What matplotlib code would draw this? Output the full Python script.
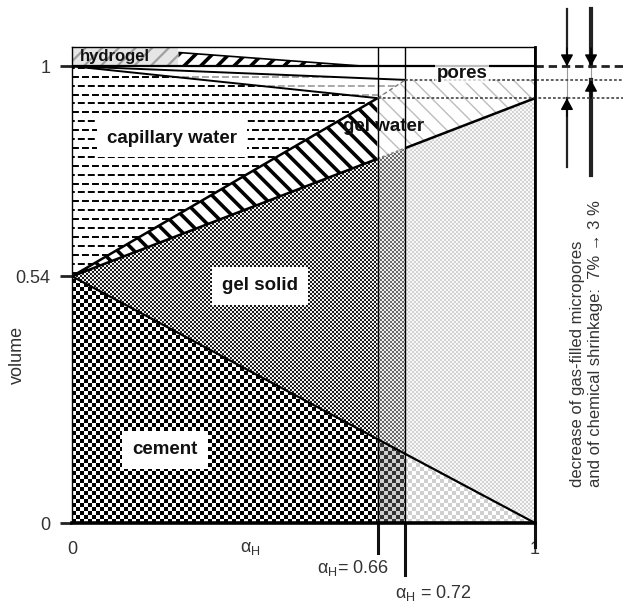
import numpy as np
import matplotlib
matplotlib.use("Agg")
import matplotlib.pyplot as plt
import matplotlib.colors as mcolors
from matplotlib.patches import Polygon

plt.rcParams['font.family'] = ['Liberation Sans', 'DejaVu Sans']
plt.rcParams['mathtext.fontset'] = 'custom'
plt.rcParams['mathtext.rm'] = 'Liberation Sans'
plt.rcParams['mathtext.it'] = 'Liberation Sans'
plt.rcParams['mathtext.bf'] = 'Liberation Sans:bold'
plt.rcParams['lines.scale_dashes'] = False

# ---------------- data ----------------
alpha_H = [0.66, 0.72]            # marked degrees of hydration
y_ticks = [0, 0.54, 1]
y_ticklabels = ['0', '0.54', '1']
x_ticks = [0, 1]
x_ticklabels = ['0', '1']

cement_x = [0.0, 1.0]
cement_y = [0.54, 0.0]
gel_solid_x = [0.0, 1.0]
gel_solid_y = [0.54, 0.93]
gel_water_x = [0.0, 0.66]
gel_water_y = [0.54, 0.93]
capillary_top_x = [0.0, 0.66]
capillary_top_y = [1.0, 0.93]
shrinkage_x = [0.0, 0.72]
shrinkage_y = [1.0, 0.97]
hydrogel_gray_x = [0.0, 0.23]
hydrogel_wedge_x = [0.23, 0.63]
hydrogel_wedge_y = [1.03, 1.0]
y_top = 1.042

labels = {
    'capillary water': (0.216, 0.842),
    'gel solid': (0.406, 0.519),
    'cement': (0.201, 0.160),
    'pores': (0.842, 0.985),
    'gel water': (0.672, 0.867),
    'hydrogel': (0.093, 1.021),
}

# ---------------- figure ----------------
W, H = 463, 476
fig = plt.figure(figsize=(6.24, 6.05), dpi=100)
ax = fig.add_axes([72 / 624, 82 / 605, W / 624, H / 605])

a1, a2 = alpha_H
cem = lambda x: np.interp(x, cement_x, cement_y)
gs = lambda x: np.interp(x, gel_solid_x, gel_solid_y)
gw = lambda x: np.interp(x, gel_water_x, gel_water_y)
sh = lambda x: np.interp(x, shrinkage_x, shrinkage_y)
v0 = cement_y[0]


def checker(cell, c1, c2):
    i, j = np.indices((H, W))
    m = ((i // cell + j // cell) % 2 == 0)
    c1 = np.array(mcolors.to_rgb(c1))
    c2 = np.array(mcolors.to_rgb(c2))
    return np.where(m[..., None], c1, c2)


def textured(pts, tex):
    p = Polygon(pts, closed=True, facecolor='none', edgecolor='none')
    ax.add_patch(p)
    im = ax.imshow(tex, extent=(0, 1, 0, y_top), interpolation='nearest',
                   aspect='auto', zorder=1)
    im.set_clip_path(p)


def hatched(pts, hatch, color, lw, face='white'):
    with plt.rc_context({'hatch.linewidth': lw}):
        p = Polygon(pts, closed=True, facecolor=face, edgecolor=color,
                    linewidth=0, hatch=hatch, zorder=1)
        ax.add_patch(p)


def dashed(pts, color, lw, step=0.0195):
    p = Polygon(pts, closed=True, facecolor='white', edgecolor='none', zorder=1)
    ax.add_patch(p)
    for k, yy in enumerate(np.arange(0.548, 1.0, step)):
        ln, = ax.plot([0, 1], [yy, yy], color=color, lw=lw,
                      linestyle=((k % 2) * 3.0, (5, 2.2)), zorder=1.5)
        ln.set_clip_path(p)


# cement
textured([(0, 0), (a1, 0), (a1, cem(a1)), (0, v0)], checker(4, '#000000', '#ffffff'))
textured([(a1, 0), (a2, 0), (a2, cem(a2)), (a1, cem(a1))], checker(4, '#333333', '#d0d0d0'))
textured([(a2, 0), (1, 0), (a2, cem(a2))], checker(4, '#cfcfcf', '#ffffff'))
# gel solid
textured([(0, v0), (a1, cem(a1)), (a1, gs(a1))], checker(2, '#1a1a1a', '#f2f2f2'))
textured([(a1, cem(a1)), (a2, cem(a2)), (a2, gs(a2)), (a1, gs(a1))], checker(2, '#6a6a6a', '#eeeeee'))
textured([(a2, cem(a2)), (1, 0), (1, gs(1)), (a2, gs(a2))], checker(2, '#d4d4d4', '#f8f8f8'))
# gel water
hatched([(0, v0), (a1, gs(a1)), (a1, gw(a1))], '\\\\', 'black', 2.6)
hatched([(a1, gs(a1)), (1, gs(1)), (1, sh(a2)), (a2, sh(a2)), (a1, gw(a1))], '\\\\', '#bdbdbd', 1.0)
# capillary water and shrinkage wedge
dashed([(0, v0), (a1, gw(a1)), (0, 1.0)], 'black', 1.4)
dashed([(0, 1.0), (a1, gw(a1)), (a2, sh(a2))], '#9a9a9a', 1.2)
# hydrogel
hatched([(hydrogel_gray_x[0], 1.0), (hydrogel_gray_x[0], y_top),
         (hydrogel_gray_x[1], y_top), (hydrogel_gray_x[1], 1.0)], '//', '#a0a0a0', 1.6, face='#e6e6e6')
hatched([(hydrogel_wedge_x[0], 1.0), (hydrogel_wedge_x[0], hydrogel_wedge_y[0]),
         (hydrogel_wedge_x[1], hydrogel_wedge_y[1])], '//', 'black', 2.6)

# boundary lines
lk = dict(color='black', zorder=3, solid_capstyle='butt')
ax.plot(cement_x, cement_y, lw=1.6, **lk)
ax.plot([0, a1], [gs(0), gs(a1)], lw=1.8, **lk)
ax.plot([a1, a2], [gs(a1), gs(a2)], lw=1.2, color='#888888', ls=(0, (2, 1.5)), zorder=3)
ax.plot([a2, 1], [gs(a2), gs(1)], lw=1.8, **lk)
ax.plot(gel_water_x, gel_water_y, lw=1.8, **lk)
ax.plot(capillary_top_x, capillary_top_y, lw=1.4, **lk)
ax.plot(shrinkage_x, shrinkage_y, lw=1.4, **lk)
ax.plot([a1, a2], [gw(a1), sh(a2)], lw=1.0, color='#777777', ls=(0, (3, 2)), zorder=3)
ax.plot([hydrogel_wedge_x[0], hydrogel_wedge_x[1]], hydrogel_wedge_y, lw=1.2, **lk)
ax.plot([0, 1], [1.0, 1.0], lw=1.6, **lk)
for a in alpha_H:
    ax.plot([a, a], [0, y_top], lw=1.0, **lk)
ax.plot([1, 1], [0, y_top], lw=2.0, **lk)

# lines extending to the right of the box
x_far = 1.19
ax.plot([1, x_far], [1.0, 1.0], lw=2.0, color='#222222', ls=(0, (6, 3.5)), clip_on=False, zorder=3)
ax.plot([a2, x_far], [sh(a2), sh(a2)], lw=1.2, color='#444444', ls=(0, (2, 1.5)), clip_on=False, zorder=3)
ax.plot([a1, x_far], [gw(a1), gw(a1)], lw=1.2, color='#444444', ls=(0, (2, 1.5)), clip_on=False, zorder=3)

# arrows on the right
xa1, xa2 = 1.069, 1.121
yt = 1.125
ax.plot([xa1, xa1], [yt, 1.0], lw=1.6, color='#222222', clip_on=False)
ax.plot([xa1, xa1], [1.0, gw(a1)], lw=0.8, color='#999999', clip_on=False)
ax.plot([xa1, xa1], [gw(a1), 0.779], lw=1.6, color='#222222', clip_on=False)
ax.plot([xa2, xa2], [yt, 1.0], lw=3.0, color='#222222', clip_on=False)
ax.plot([xa2, xa2], [1.0, sh(a2)], lw=0.8, color='#999999', clip_on=False)
ax.plot([xa2, xa2], [sh(a2), 0.762], lw=3.0, color='#222222', clip_on=False)
ap = dict(arrowstyle='-|>,head_length=0.7,head_width=0.38', color='black', lw=1.0,
          shrinkA=0, shrinkB=0)
for xa, ylow in [(xa1, gw(a1)), (xa2, sh(a2))]:
    ax.annotate('', xy=(xa, 1.0), xytext=(xa, 1.04), arrowprops=ap, annotation_clip=False)
    ax.annotate('', xy=(xa, ylow), xytext=(xa, ylow - 0.04), arrowprops=ap, annotation_clip=False)

# region labels
bb = dict(facecolor='white', edgecolor='none', boxstyle='square,pad=0.55')
for name in ['capillary water', 'gel solid', 'cement']:
    x, y = labels[name]
    ax.text(x, y, name, ha='center', va='center', fontsize=13.5, fontweight='bold',
            color='#111111', bbox=bb, zorder=5)
x, y = labels['pores']
ax.text(x, y, 'pores', ha='center', va='center', fontsize=13.5, fontweight='bold', color='#111111',
        bbox=dict(facecolor='white', edgecolor='none', alpha=0.75, boxstyle='square,pad=0.1'), zorder=5)
x, y = labels['gel water']
ax.text(x, y, 'gel water', ha='center', va='center', fontsize=13.5, fontweight='bold',
        color='#111111', zorder=5)
x, y = labels['hydrogel']
ax.text(x, y, 'hydrogel', ha='center', va='center', fontsize=12, fontweight='bold',
        color='#111111', zorder=5)

# axes styling
ax.set_xlim(0, 1)
ax.set_ylim(0, y_top)
for s, w in [('bottom', 2.6), ('right', 2.0), ('left', 1.0), ('top', 1.0)]:
    ax.spines[s].set_linewidth(w)
    ax.spines[s].set_zorder(4)
ax.set_yticks(y_ticks)
ax.set_yticklabels(y_ticklabels)
ax.tick_params(axis='y', length=8.6, width=2, pad=7, labelsize=13, labelcolor='#333333', color='#222222')
ax.set_xticks(x_ticks)
ax.set_xticklabels(x_ticklabels)
ax.tick_params(axis='x', length=0, pad=13, labelsize=13, labelcolor='#333333')

# tick extensions below the axis
for xv, frac in [(a1, 0.063), (a2, 0.109), (1.0, 0.05)]:
    ax.axvline(xv, ymin=-frac, ymax=0, color='#111111', lw=2.2, clip_on=False, zorder=4)

tr = ax.transAxes
xt = ax.get_xaxis_transform()
ax.text(0.385, -0.053, r'$\alpha_{\mathregular{H}}$', transform=xt,
        ha='center', va='center', fontsize=13, color='#333333')
ax.text(0.607, -0.095, r'$\alpha_{\mathregular{H}}$= 0.66', transform=xt,
        ha='center', va='center', fontsize=13, color='#333333')
ax.text(0.78, -0.147, r'$\alpha_{\mathregular{H}}$ = 0.72', transform=xt,
        ha='center', va='center', fontsize=13, color='#333333')
ax.text(-0.117, 0.353, 'volume', transform=tr, rotation=90, ha='center', va='center',
        fontsize=13, color='#333333')
ax.text(1.112, 0.376, 'decrease of gas-filled micropores\nand of chemical shrinkage:  7% → 3 %',
        transform=tr, rotation=90, ha='center', va='center', multialignment='left',
        fontsize=12, color='#333333', linespacing=1.25)

fig.savefig('out.png', dpi=100)
